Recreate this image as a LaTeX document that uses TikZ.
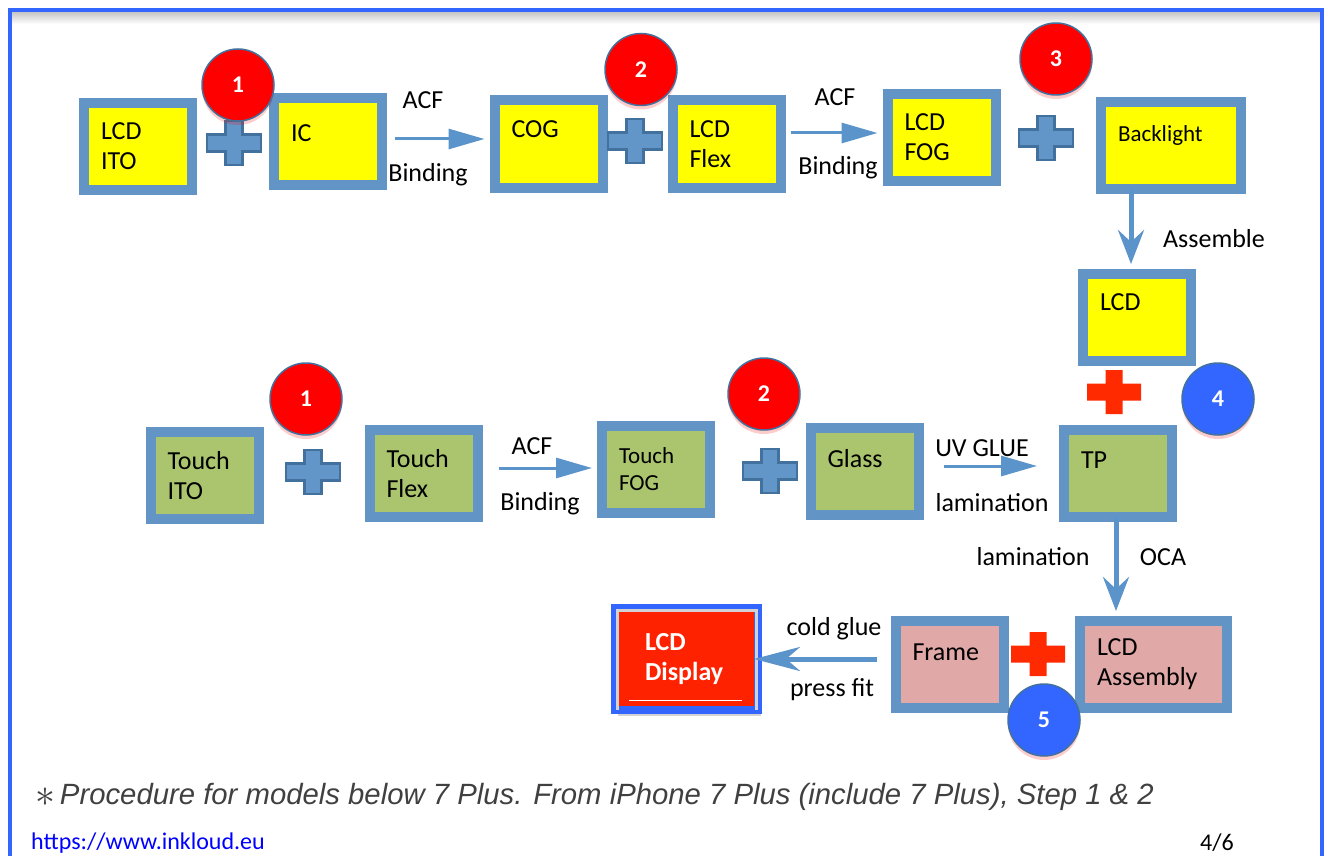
\documentclass[tikz,border=0pt]{standalone}
\usepackage{fontspec}
\setmainfont{Carlito}
\newfontfamily\notefont{Liberation Sans}
\usetikzlibrary{arrows.meta, positioning, calc, shadows}
\definecolor{frameblue}{HTML}{3366FF}
\definecolor{boxblue}{HTML}{6294C6}
\definecolor{lcdyellow}{HTML}{FFFF00}
\definecolor{touchgreen}{HTML}{ABC46E}
\definecolor{framepink}{HTML}{E0A8A6}
\definecolor{displayred}{HTML}{FF2200}
\definecolor{badgered}{HTML}{FF0000}
\definecolor{badgeedge}{HTML}{41719C}
\definecolor{crossblue}{HTML}{6295C8}
\definecolor{crossedge}{HTML}{41719C}
\definecolor{crossred}{HTML}{FF2A00}
\definecolor{arrowblue}{HTML}{5B93CB}
\definecolor{notegrey}{HTML}{404040}
\tikzstyle{part} = [rectangle, draw=boxblue, line width=10pt, fill=lcdyellow, minimum width=108pt, minimum height=87pt, text width=74pt, inner xsep=17pt, inner ysep=0pt, align=left, font=\fontsize{26}{30}\selectfont]
\tikzstyle{touch} = [part, fill=touchgreen]
\tikzstyle{casing} = [part, fill=framepink]
\tikzstyle{finished} = [rectangle, draw=frameblue, line width=8pt, fill=displayred, minimum width=143pt, minimum height=102pt, text width=83pt, inner xsep=30pt, align=left, text=white, font=\bfseries\fontsize{26}{30}\selectfont, drop shadow={opacity=0.35, shadow xshift=3pt, shadow yshift=-6pt}]
\tikzstyle{badge} = [circle, minimum size=72pt, inner sep=0pt, fill=badgered, draw=badgeedge, line width=1.5pt, text=white, font=\bfseries\fontsize{24}{24}\selectfont, drop shadow={fill=red, opacity=0.2, shadow xshift=0pt, shadow yshift=-4pt}]
\tikzstyle{bluebadge} = [badge, fill=frameblue]
\tikzstyle{lbl} = [font=\fontsize{26}{30}\selectfont, inner sep=0pt, text height=17pt, text depth=0pt]
\tikzstyle{arrow} = [draw=arrowblue, line width=3pt, -{Triangle[length=36pt,width=20pt]}]
\tikzstyle{bigarrow} = [draw=arrowblue, line width=5pt, -{Stealth[length=34pt,width=26pt,inset=12pt]}]
\tikzstyle{bluesign} = [fill=crossblue, draw=crossedge, line width=2.5pt]
\tikzstyle{redsign} = [fill=crossred]
\tikzset{pics/addsign/.style={code={\path[#1] (-8.5,-22) -- (8.5,-22) -- (8.5,-8.5) -- (27,-8.5) -- (27,8.5) -- (8.5,8.5) -- (8.5,22) -- (-8.5,22) -- (-8.5,8.5) -- (-27,8.5) -- (-27,-8.5) -- (-8.5,-8.5) -- cycle;}}}

\begin{document}
\begin{tikzpicture}[x=1pt,y=-1pt]
    \useasboundingbox (0,0) rectangle (1328,856);
    \shade[top color=gray!45, bottom color=white] (12,12) rectangle (1320,24);
    \draw[frameblue, line width=4.5pt] (10,860) -- (10,10) -- (1322,10) -- (1322,860);

    % LCD line
    \node[part] (lcdito) at (138,146.5) {LCD\\ITO};
    \node[part] (ic) at (328,141.5) {IC\\[-14pt]\mbox{}};
    \node[part] (cog) at (548.5,144) {COG\\\mbox{}};
    \node[part] (lcdflex) at (726.5,144) {LCD\\Flex};
    \node[part] (lcdfog) at (941.5,137.5) {LCD\\FOG};
    \node[part, minimum width=140pt, text width=106pt, font=\fontsize{23}{28}\selectfont] (backlight) at (1171,145.5) {Backlight\\[-4pt]\mbox{}};
    \node[part] (lcd) at (1137,317.5) {LCD\\\mbox{}};

    % touch line
    \node[touch] (touchito) at (204.5,475.5) {Touch\\ITO};
    \node[touch] (touchflex) at (423.5,473.5) {Touch\\Flex};
    \node[touch, font=\fontsize{23}{27}\selectfont] (touchfog) at (656,469.5) {Touch\\FOG};
    \node[touch] (glass) at (864.5,471) {Glass\\[-5pt]\mbox{}};
    \node[touch] (tp) at (1118,473) {TP\\[-4pt]\mbox{}};

    % final assembly
    \node[casing] (frame) at (949.5,664.5) {Frame\\[-6pt]\mbox{}};
    \node[casing, minimum width=147pt, text width=113pt] (assembly) at (1153.5,664.5) {LCD\\Assembly};
    \node[finished] (display) at (686.5,659) {LCD\\Display};
    \draw[gray!35, line width=3pt] ([shift={(6,-4)}]display.south west) |- ([shift={(-6,6)}]display.north east) -- ([shift={(-6,-4)}]display.south east);
    \draw[white, line width=1pt] ([shift={(18,-14)}]display.south west) -- ([shift={(-20,-14)}]display.south east);

    \pic at (234,143) {addsign=bluesign};
    \pic at (635,141) {addsign=bluesign};
    \pic at (1046,138) {addsign=bluesign};
    \pic at (313,472) {addsign=bluesign};
    \pic at (770,471) {addsign=bluesign};
    \pic at (1114,392) {addsign=redsign};
    \pic at (1038,654) {addsign=redsign};

    \node[badge] (stepone) at (238,85) {1};
    \node[badge] (steptwo) at (641,69.5) {2};
    \node[badge] (stepthree) at (1056,59) {3};
    \node[badge] (touchone) at (306,399) {1};
    \node[badge] (touchtwo) at (764,394) {2};
    \node[bluebadge] (stepfour) at (1218,399) {4};
    \node[bluebadge] (stepfive) at (1044,720) {5};

    \draw[arrow, shorten <=8pt, shorten >=5pt] (ic.east |- 0,139) -- (cog.west |- 0,139);
    \draw[arrow, shorten <=5pt, shorten >=5pt] (lcdflex.east |- 0,133) -- (lcdfog.west |- 0,133);
    \draw[bigarrow, shorten <=-6pt, shorten >=5pt] (backlight.south -| 1131,0) -- (lcd.north -| 1131,0);
    \draw[arrow, shorten <=16pt, shorten >=5pt] (touchflex.east |- 0,468) -- (touchfog.west |- 0,468);
    \draw[arrow, shorten <=20pt, shorten >=22pt] (glass.east |- 0,466) -- (tp.west |- 0,466);
    \draw[bigarrow, shorten <=-5pt, shorten >=5pt] (tp.south -| 1116,0) -- (assembly.north -| 1116,0);
    \draw[draw=arrowblue, line width=5pt, -{Stealth[length=46pt,width=24pt,inset=14pt]}, shorten <=14pt, shorten >=-8pt] (frame.west |- 0,659) -- (display.east |- 0,659);

    \node[lbl] (acfone) at (423,100) {ACF};
    \node[lbl] (bindone) at (428,173) {Binding};
    \node[lbl] (acftwo) at (835,97) {ACF};
    \node[lbl] (bindtwo) at (838,166) {Binding};
    \node[lbl] (assemble) at (1214,239) {Assemble};
    \node[lbl] (acfthree) at (532,446) {ACF};
    \node[lbl] (bindthree) at (540,502) {Binding};
    \node[lbl] (uvglue) at (982,448) {UV GLUE};
    \node[lbl] (lamone) at (992,503) {lamination};
    \node[lbl] (lamtwo) at (1033,557) {lamination};
    \node[lbl] (oca) at (1163,557) {OCA};
    \node[lbl] (coldglue) at (834,627) {cold glue};
    \node[lbl] (pressfit) at (832,688) {press fit};

    \node[anchor=west, inner sep=0pt, text=notegrey, font=\notefont\itshape\fontsize{29.3}{33}\selectfont] (note) at (35,797) {\raisebox{-2pt}{\scalebox{1.6}{$\ast$}}\,Procedure for models below 7 Plus. From iPhone 7 Plus (include 7 Plus), Step 1 \& 2};
    \node[anchor=west, inner sep=0pt, text=blue, font=\fontsize{24}{28}\selectfont] (url) at (31,843) {https://www.inkloud.eu};
    \node[anchor=west, inner sep=0pt, font=\fontsize{24}{28}\selectfont] (page) at (1200,843) {4/6};
\end{tikzpicture}
\end{document}
